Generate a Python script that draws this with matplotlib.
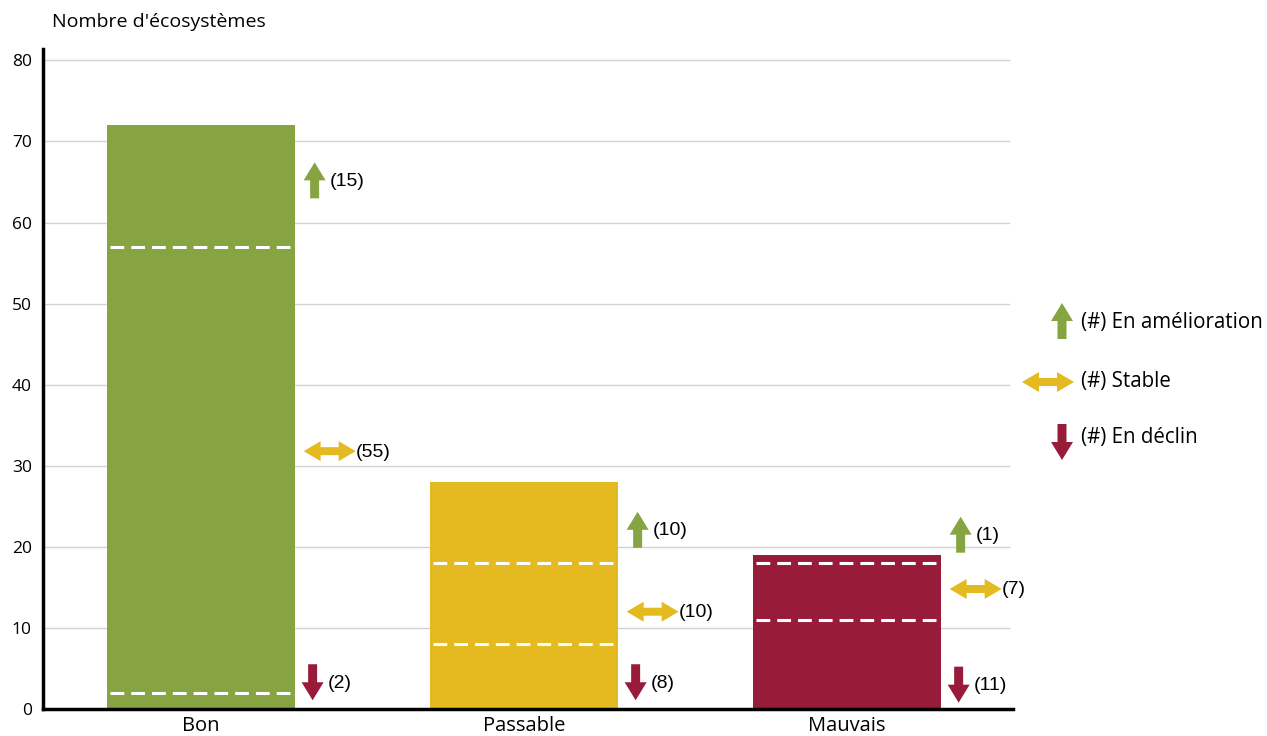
import matplotlib
matplotlib.use("Agg")
import matplotlib.pyplot as plt
from matplotlib.patches import Polygon
from matplotlib.transforms import Affine2D, ScaledTranslation

# Données
categories = ["Bon", "Passable", "Mauvais"]
en_declin = [2, 8, 11]
stable = [55, 10, 7]
amelioration = [15, 10, 1]

# Hauteur des flèches d'annotation (en unités de l'axe y)
y_up = [65.2, 22.1, 21.5]
y_stable = [31.8, 12.0, 14.8]
y_down = [3.3, 3.3, 3.0]

bar_colors = ["#86a441", "#e5b920", "#981b3a"]
c_up, c_stable, c_down = "#86a441", "#e5b920", "#981b3a"

UP = [(-4.5, -18), (4.5, -18), (4.5, 0), (11, 0), (0, 18), (-11, 0), (-4.5, 0)]
DOWN = [(x, -y) for x, y in UP]
BOTH = [(-26, 0), (-9, 10), (-9, 4), (9, 4), (9, 10), (26, 0),
        (9, -10), (9, -4), (-9, -4), (-9, -10)]

fig = plt.figure(figsize=(12.67, 7.36), dpi=100)
ax = fig.add_axes([43 / 1267, 27 / 736, (1013 - 43) / 1267, (687 - 27) / 736])

x = list(range(len(categories)))
width = 0.58
totals = [a + b + c for a, b, c in zip(en_declin, stable, amelioration)]
ax.bar(x, totals, width=width, color=bar_colors, zorder=2)

# lignes pointillées entre les segments
for i in x:
    for level in (en_declin[i], en_declin[i] + stable[i]):
        ax.plot([i - width / 2 + 0.008, i + width / 2 - 0.008], [level, level],
                color="white", lw=2.2, dashes=(4.5, 2.3), zorder=3)

ax.set_xlim(-0.489, 2.514)
ax.set_ylim(0, 81.4)
for yv in range(10, 90, 10):
    ax.axhline(yv, xmin=0, xmax=(1009 - 43) / (1013 - 43), color="#d2d2d2", lw=1, zorder=1)

ax.spines["top"].set_visible(False)
ax.spines["right"].set_visible(False)
ax.spines["left"].set_linewidth(2.5)
ax.spines["bottom"].set_linewidth(2.5)
ax.set_yticks(range(0, 90, 10))
ax.set_xticks(x)
ax.set_xticklabels(categories, fontfamily="Open Sans", fontsize=14.5)
ax.tick_params(axis="y", length=0, pad=8, labelsize=12.5)
ax.tick_params(axis="x", length=0, pad=5)
for lab in ax.get_yticklabels():
    lab.set_fontfamily("Open Sans")

fig.text(52 / 1267, 1 - 22 / 736, "Nombre d'écosystèmes", fontfamily="Open Sans",
         fontsize=14, va="center", ha="left")


def arrow(shape, color, base):
    tr = Affine2D().scale(1 / 100) + fig.dpi_scale_trans + base
    p = Polygon(shape, closed=True, facecolor=color, edgecolor="none",
                transform=tr, clip_on=False, zorder=4)
    fig.add_artist(p)


def label(txt, base, dx):
    tr = Affine2D().scale(1 / 100) + fig.dpi_scale_trans + base
    fig.text(dx, -1, txt, transform=tr, fontfamily="Liberation Sans", fontsize=14,
             va="center", ha="left")


for i in x:
    right = i + width / 2
    b = ScaledTranslation(right, y_up[i], ax.transData)
    b = b + ScaledTranslation(20 / 100, 0, fig.dpi_scale_trans)
    arrow(UP, c_up, b)
    label("(%d)" % amelioration[i], b, 15)

    b = ScaledTranslation(right, y_stable[i], ax.transData)
    b = b + ScaledTranslation(35 / 100, 0, fig.dpi_scale_trans)
    arrow(BOTH, c_stable, b)
    label("(%d)" % stable[i], b, 26)

    b = ScaledTranslation(right, y_down[i], ax.transData)
    b = b + ScaledTranslation(18 / 100, 0, fig.dpi_scale_trans)
    arrow(DOWN, c_down, b)
    label("(%d)" % en_declin[i], b, 15)

# légende
legend_items = [(UP, c_up, "(#) En amélioration", 1062, 321, 323),
                (BOTH, c_stable, "(#) Stable", 1048, 382, 381),
                (DOWN, c_down, "(#) En déclin", 1062, 442, 437)]
for shape, col, txt, px, py, ty in legend_items:
    b = ScaledTranslation(px / 1267, 1 - py / 736, fig.transFigure)
    arrow(shape, col, b)
    fig.text(1081 / 1267, 1 - ty / 736, txt, fontfamily="Open Sans", fontsize=14.8,
             va="center", ha="left")

fig.savefig("out.png", dpi=100)
